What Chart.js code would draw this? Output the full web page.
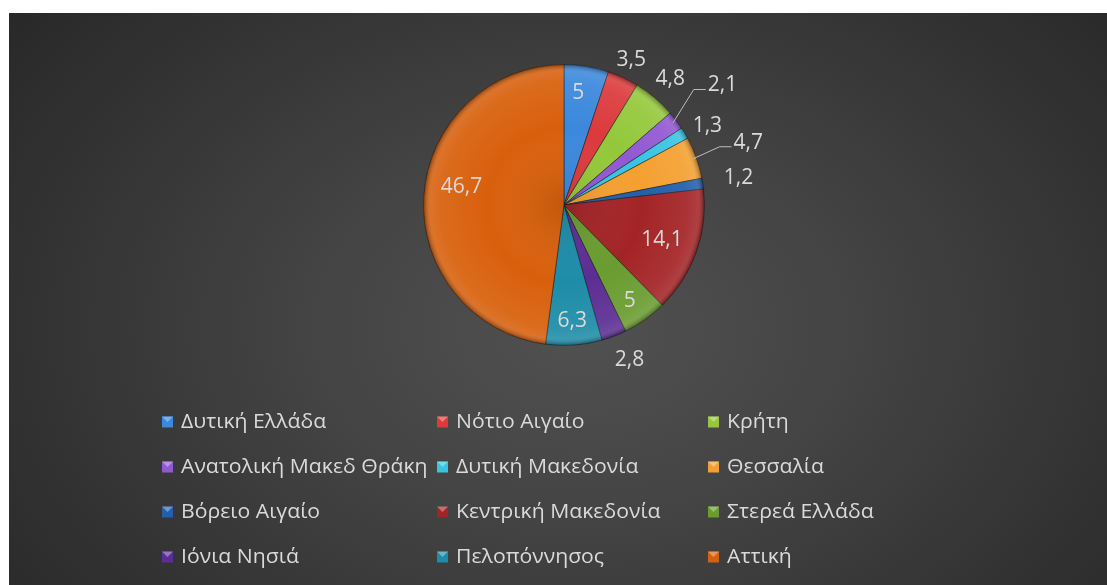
<!DOCTYPE html>
<html>
<head>
<meta charset="utf-8">
<script src="https://cdn.jsdelivr.net/npm/chart.js@4.4.1/dist/chart.umd.min.js"></script>
<style>
  html, body { margin: 0; padding: 0; background: #fff; }
  #box {
    position: absolute; left: 9px; top: 13px; width: 1098px; height: 572px;
    background: radial-gradient(ellipse 70% 95% at 52% 55%, #515151 0%, #444444 35%, #333333 70%, #262626 100%);
  }
  canvas { display: block; }
</style>
</head>
<body>
<div id="box"><canvas id="chart" width="1098" height="572"></canvas></div>
<script>
const regions = [
  "Δυτική Ελλάδα", "Νότιο Αιγαίο", "Κρήτη",
  "Ανατολική Μακεδ Θράκη", "Δυτική Μακεδονία", "Θεσσαλία",
  "Βόρειο Αιγαίο", "Κεντρική Μακεδονία", "Στερεά Ελλάδα",
  "Ιόνια Νησιά", "Πελοπόννησος", "Αττική"
];
const shares = [5, 3.5, 4.8, 2.1, 1.3, 4.7, 1.2, 14.1, 5, 2.8, 6.3, 46.7];

const sliceColors = [
  "#3b88dc", "#dc3a3c", "#94c83a", "#9258d2", "#38c4e4", "#f4a030",
  "#2160ac", "#a42426", "#6a9c30", "#5c2e94", "#1e8ca8", "#d8600c"
];
// label placement: <1 = fraction of radius (inside), >=1 = radius + px (outside)
const labelPlace = [0.8, 19, 24, 58, 23, 54, 36, 0.74, 0.83, 28, 0.83, 0.74];
// small angular nudge of a label, degrees
const labelTurn = [-2, 0, 0, 0, 2, 1, 0, 0, 1, -2, 0, 6];
const leaderLines = [false, false, false, true, false, true, false, false, false, false, false, false];

const fmt = v => String(v).replace(".", ",");
const textColor = "#dadada";
const fontFamily = "'Open Sans', 'Noto Sans', sans-serif";

const pieLook = {
  id: "pieLook",
  afterDatasetsDraw(chart) {
    const ctx = chart.ctx;
    const arcs = chart.getDatasetMeta(0).data;
    if (!arcs.length) return;
    const a0 = arcs[0];
    const cx = a0.x, cy = a0.y, r = a0.outerRadius;
    // bevel shading
    ctx.save();
    ctx.beginPath();
    ctx.arc(cx, cy, r, 0, Math.PI * 2);
    ctx.clip();
    const g = ctx.createRadialGradient(cx, cy, 0, cx, cy, r);
    g.addColorStop(0, "rgba(0,0,0,0.10)");
    g.addColorStop(0.55, "rgba(255,255,255,0.00)");
    g.addColorStop(0.88, "rgba(255,255,255,0.07)");
    g.addColorStop(0.95, "rgba(255,255,255,0.12)");
    g.addColorStop(1, "rgba(0,0,0,0.35)");
    ctx.fillStyle = g;
    ctx.fillRect(cx - r, cy - r, 2 * r, 2 * r);
    ctx.restore();

    // labels
    ctx.save();
    ctx.font = "21px " + fontFamily;
    ctx.textAlign = "center";
    ctx.textBaseline = "middle";
    arcs.forEach((arc, i) => {
      const mid = (arc.startAngle + arc.endAngle) / 2 + labelTurn[i] * Math.PI / 180;
      const p = labelPlace[i];
      const dist = p < 1 ? r * p : r + p;
      const lx = cx + Math.cos(mid) * dist;
      const ly = cy + Math.sin(mid) * dist;
      if (leaderLines[i]) {
        const am = (arc.startAngle + arc.endAngle) / 2;
        ctx.strokeStyle = "#bdbdbd";
        ctx.lineWidth = 1;
        ctx.beginPath();
        const ex = cx + Math.cos(am) * (r - 4);
        const ey = cy + Math.sin(am) * (r - 4);
        const tw = ctx.measureText(fmt(shares[i])).width;
        ctx.moveTo(ex, ey);
        ctx.lineTo(lx - tw / 2 - 14, ly + 4);
        ctx.lineTo(lx - tw / 2 - 2, ly + 4);
        ctx.stroke();
      }
      ctx.fillStyle = textColor;
      ctx.fillText(fmt(shares[i]), lx, ly);
    });
    ctx.restore();
  },
  afterDraw(chart) {
    // legend in 3 columns
    const ctx = chart.ctx;
    const colX = [153, 428, 699];
    const rowY = [409, 454, 499, 544];
    ctx.save();
    ctx.font = "20px " + fontFamily;
    ctx.textBaseline = "middle";
    ctx.textAlign = "left";
    regions.forEach((name, i) => {
      const x = colX[i % 3], y = rowY[Math.floor(i / 3)];
      const s = 11;
      ctx.fillStyle = sliceColors[i];
      ctx.fillRect(x, y - s / 2, s, s);
      ctx.fillStyle = "rgba(255,255,255,0.35)";
      ctx.beginPath();
      ctx.moveTo(x, y - s / 2); ctx.lineTo(x + s, y - s / 2); ctx.lineTo(x + s / 2, y); ctx.closePath();
      ctx.fill();
      ctx.fillStyle = textColor;
      ctx.save();
      ctx.translate(x + 19, y);
      ctx.scale(1.06, 1);
      ctx.fillText(name, 0, 0);
      ctx.restore();
    });
    ctx.restore();
  }
};

new Chart(document.getElementById("chart").getContext("2d"), {
  type: "pie",
  data: {
    labels: regions,
    datasets: [{
      data: shares,
      backgroundColor: sliceColors,
      borderColor: "rgba(30,30,30,0.55)",
      borderWidth: 1
    }]
  },
  options: {
    responsive: false,
    animation: false,
    layout: { padding: { left: 414, right: 402, top: 51, bottom: 239 } },
    plugins: {
      legend: { display: false },
      tooltip: { enabled: false }
    }
  },
  plugins: [pieLook]
});
</script>
</body>
</html>
